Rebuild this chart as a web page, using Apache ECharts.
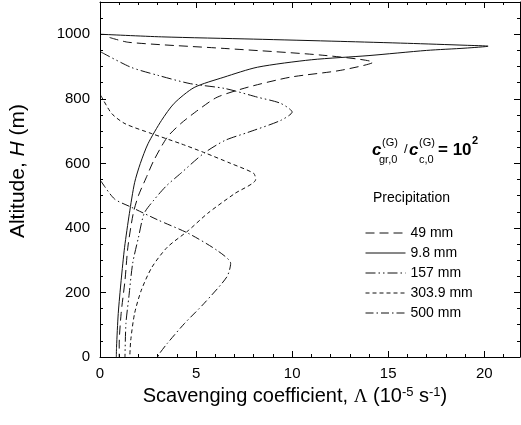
<!DOCTYPE html>
<html>
<head>
<meta charset="utf-8">
<script src="https://cdn.jsdelivr.net/npm/echarts@6/dist/echarts.min.js"></script>
<style>
html,body{margin:0;padding:0;background:#fff;}
#chart{width:521px;height:425px;}
</style>
</head>
<body>
<div id="chart"></div>
<script>
// Series data: [scavenging coefficient (1e-5 s^-1), altitude (m)]
var seriesNames = ['49 mm', '9.8 mm', '157 mm', '303.9 mm', '500 mm'];
var p49 = [[0.5,990],[1.5,975],[6.5,956],[11.6,935],[14.2,913],[12.5,888],[9.9,867],[7.7,836],[6.1,805],[5.1,765],[4.2,723],[3.5,681],[2.8,609],[2.4,555],[2.0,500],[1.73,445],[1.45,340],[1.3,237],[1.1,135],[1.0,40],[1.0,0]];
var p98 = [[0.05,1000],[3.2,992],[8,985],[12.5,978],[16,972],[19,966],[20.2,963],[19,957],[17,950],[14,934],[11,921],[8.2,898],[6.45,867],[4.9,835],[3.86,786],[3.2,733],[2.5,661],[2.1,600],[1.8,540],[1.53,445],[1.28,340],[1.1,237],[0.95,135],[0.86,30],[0.85,0]];
var p157 = [[0.05,945],[1.6,898],[3.0,873],[4.7,847],[6.5,832],[8.2,805],[9.4,786],[10.0,759],[9.4,733],[7.7,696],[6.5,671],[5.4,631],[4.2,569],[3.45,530],[2.8,486],[2.3,445],[2.0,370],[1.7,290],[1.5,185],[1.35,104],[1.3,0]];
var p303 = [[0.05,810],[0.6,755],[1.3,723],[2.7,692],[4.2,661],[5.4,634],[6.8,600],[8.0,569],[8.1,550],[7.0,506],[5.6,445],[4.6,392],[3.5,340],[2.7,278],[2.15,207],[1.8,135],[1.6,52],[1.55,0]];
var p500 = [[0.05,545],[0.75,490],[1.6,465],[3.0,425],[4.6,383],[6.1,330],[6.8,290],[6.6,248],[5.4,165],[4.4,104],[3.5,42],[3.1,11],[3.0,0]];
var xTicks = [0, 5, 10, 15, 20];
var yTicks = [0, 200, 400, 600, 800, 1000];

var dashes = {
  '49 mm': [9, 5],
  '9.8 mm': 'solid',
  '157 mm': [10, 3, 1.5, 3, 1.5, 3],
  '303.9 mm': [4, 3],
  '500 mm': [8, 3, 1.5, 3]
};
var dataMap = {'49 mm': p49, '9.8 mm': p98, '157 mm': p157, '303.9 mm': p303, '500 mm': p500};

var FONT = 'Liberation Sans, Arial, sans-serif';
var chart = echarts.init(document.getElementById('chart'), null, {renderer: 'canvas'});

function baseAxis(extra) {
  var a = {
    axisLine: {show: true, onZero: false, lineStyle: {color: '#000', width: 1}},
    axisTick: {show: true, inside: true, length: 6, lineStyle: {color: '#000', width: 1}},
    minorTick: {show: true, length: 3, lineStyle: {color: '#000', width: 1}},
    splitLine: {show: false},
    minorSplitLine: {show: false}
  };
  for (var k in extra) a[k] = extra[k];
  return a;
}

function txt(x, y, s, font) {
  return {type: 'text', x: x, y: y, style: {text: s, font: font, fill: '#000', textVerticalAlign: 'middle'}};
}

var option = {
  backgroundColor: '#fff',
  animation: false,
  grid: {left: 98, right: 1, top: 2, bottom: 68, containLabel: false},
  xAxis: [
    baseAxis({
      type: 'value', min: 0, max: 21.86, interval: 5, position: 'bottom',
      minorTick: {show: true, splitNumber: 5, length: 3, lineStyle: {color: '#000'}},
      axisLabel: {color: '#000', fontSize: 15, fontFamily: FONT, margin: 9, showMaxLabel: false,
        formatter: function (v) { return xTicks.indexOf(v) >= 0 ? String(v) : ''; }},
      name: 'Scavenging coefficient, {l|Λ} (10{sup|-5} s{sup|-1})',
      nameLocation: 'middle', nameGap: 28,
      nameTextStyle: {color: '#000', fontSize: 20, fontFamily: FONT, padding: [0, 30, 0, 0],
        rich: {
          l: {fontSize: 19, fontFamily: 'Liberation Serif, Times New Roman, serif', color: '#000'},
          sup: {fontSize: 13, fontFamily: FONT, color: '#000', verticalAlign: 'top', padding: [0, 0, 9, 0]}
        }}
    }),
    baseAxis({
      type: 'value', min: 0, max: 21.86, interval: 5, position: 'top',
      minorTick: {show: true, splitNumber: 5, length: 3, lineStyle: {color: '#000'}},
      axisLabel: {show: false}
    })
  ],
  yAxis: [
    baseAxis({
      type: 'value', min: 0, max: 1100, interval: 200, position: 'left',
      minorTick: {show: true, splitNumber: 4, length: 3, lineStyle: {color: '#000'}},
      axisLabel: {color: '#000', fontSize: 15, fontFamily: FONT, margin: 10, showMaxLabel: false,
        formatter: function (v) { return yTicks.indexOf(v) >= 0 ? String(v) : ''; }},
      name: '{n|Altitude, }{i|H}{n| (m)}',
      nameLocation: 'middle', nameGap: 71,
      nameTextStyle: {color: '#000', fontSize: 21, fontFamily: FONT, padding: [0, 0, 0, 17],
        rich: {
          n: {fontSize: 21, fontFamily: FONT, color: '#000'},
          i: {fontSize: 21, fontFamily: FONT, fontStyle: 'italic', color: '#000'}
        }}
    }),
    baseAxis({
      type: 'value', min: 0, max: 1100, interval: 200, position: 'right',
      minorTick: {show: true, splitNumber: 4, length: 3, lineStyle: {color: '#000'}},
      axisLabel: {show: false}
    })
  ],
  legend: {
    show: true, orient: 'vertical', left: 365, top: 226, padding: 0,
    itemWidth: 40, itemHeight: 14, itemGap: 6,
    data: seriesNames,
    lineStyle: {width: 1, color: '#111'},
    itemStyle: {opacity: 0},
    textStyle: {color: '#000', fontSize: 14, fontFamily: FONT},
    selectedMode: false
  },
  graphic: [
    {type: 'text', left: 373, top: 191, style: {text: 'Precipitation', font: '14px ' + FONT, fill: '#000'}},
    txt(372, 150, 'c', 'italic bold 17px ' + FONT),
    txt(382, 143, '(G)', '11px ' + FONT),
    txt(379, 160, 'gr,0', '11px ' + FONT),
    txt(404, 149, '/', '13px ' + FONT),
    txt(409, 150, 'c', 'italic bold 17px ' + FONT),
    txt(419, 143, '(G)', '11px ' + FONT),
    txt(419, 160, 'c,0', '11px ' + FONT),
    txt(438, 150, '= 10', 'bold 17px ' + FONT),
    txt(472, 141, '2', 'bold 11px ' + FONT)
  ],
  series: seriesNames.map(function (n) {
    return {
      name: n, type: 'line', xAxisIndex: 0, yAxisIndex: 0,
      data: dataMap[n], showSymbol: false, symbol: 'none', smooth: 0.25,
      lineStyle: {color: '#111', width: 1, type: dashes[n]},
      itemStyle: {color: '#111'},
      emphasis: {disabled: true}
    };
  })
};
chart.setOption(option);
</script>
</body>
</html>
